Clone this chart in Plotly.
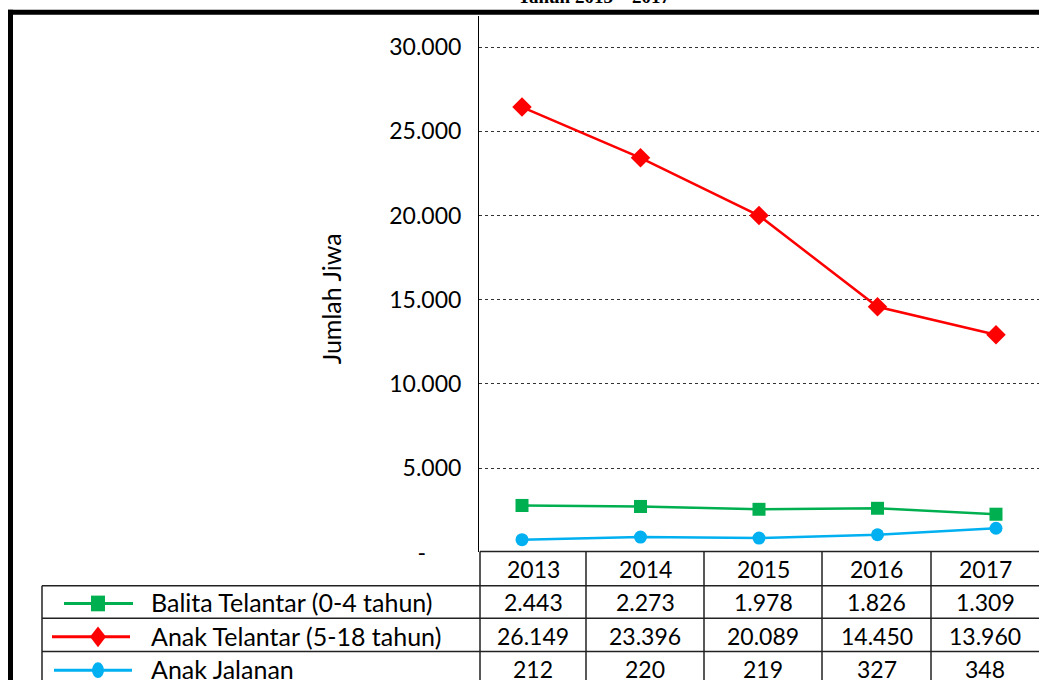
import plotly.graph_objects as go

# ---------------- data ----------------
years = ["2013", "2014", "2015", "2016", "2017"]
series_names = ["Balita Telantar (0-4 tahun)", "Anak Telantar (5-18 tahun)", "Anak Jalanan"]

# values shown in the data table
balita_table = ["2.443", "2.273", "1.978", "1.826", "1.309"]
anak_telantar_table = ["26.149", "23.396", "20.089", "14.450", "13.960"]
anak_jalanan_table = ["212", "220", "219", "327", "348"]

# values as plotted in the chart
balita_plot = [2790, 2730, 2560, 2620, 2270]
anak_telantar_plot = [26440, 23430, 20000, 14580, 12920]
anak_jalanan_plot = [760, 910, 850, 1050, 1435]

y_tickvals = [0, 5000, 10000, 15000, 20000, 25000, 30000]
y_ticktext = ["-" + "\u00a0" * 6, "5.000", "10.000", "15.000", "20.000", "25.000", "30.000"]

colors = ["#00B050", "#FF0000", "#00B0F0"]
symbols = ["square", "diamond", "circle"]
msizes = [13, 15, 13]

W, H = 1039, 693
FONT = "Lato"


def px(x):
    return x / W


def py(y):
    return (H - y) / H


fig = go.Figure()
xs = list(range(len(years)))
plot_vals = [balita_plot, anak_telantar_plot, anak_jalanan_plot]
for name, vals, c, s, ms in zip(series_names, plot_vals, colors, symbols, msizes):
    fig.add_trace(go.Scatter(
        x=xs, y=vals, mode="lines+markers", name=name,
        line=dict(color=c, width=2.5),
        marker=dict(color=c, symbol=s, size=ms),
        showlegend=False,
    ))

shapes = []
annotations = []

# outer thick border (left and top)
shapes.append(dict(type="rect", xref="paper", yref="paper",
                   x0=px(8), x1=px(13), y0=py(693), y1=py(10),
                   fillcolor="black", line=dict(width=0)))
shapes.append(dict(type="rect", xref="paper", yref="paper",
                   x0=px(8), x1=px(1039), y0=py(15), y1=py(10),
                   fillcolor="black", line=dict(width=0)))

# data table grid
tbl_line = dict(color="#222222", width=1.5)
col_edges = [480, 586, 704, 822, 931, 1040]
row_edges = [562, 597, 630, 664, 700]
shapes.append(dict(type="line", xref="paper", yref="paper",
                   x0=px(480), x1=px(1039), y0=py(562), y1=py(562), line=tbl_line))
for r in row_edges[1:-1]:
    shapes.append(dict(type="line", xref="paper", yref="paper",
                       x0=px(42), x1=px(1039), y0=py(r), y1=py(r), line=tbl_line))
for c in col_edges[:-1]:
    shapes.append(dict(type="line", xref="paper", yref="paper",
                       x0=px(c), x1=px(c), y0=py(562), y1=py(693), line=tbl_line))
shapes.append(dict(type="line", xref="paper", yref="paper",
                   x0=px(42), x1=px(42), y0=py(597), y1=py(693), line=tbl_line))

num_font = dict(family=FONT, size=23, color="black")
lbl_font = dict(family=FONT, size=25, color="black")


def col_center(i):
    if i == len(years) - 1:
        return (931 + 1039) / 2
    return (col_edges[i] + col_edges[i + 1]) / 2


for i, yr in enumerate(years):
    annotations.append(dict(x=px(col_center(i)), y=py(580), xref="paper", yref="paper",
                            text=yr, showarrow=False, font=num_font,
                            xanchor="center", yanchor="middle"))

table_rows = [balita_table, anak_telantar_table, anak_jalanan_table]
row_centers = [614, 648, 682]
for r, (name, vals) in enumerate(zip(series_names, table_rows)):
    cy = row_centers[r]
    annotations.append(dict(x=px(149), y=py(cy), xref="paper", yref="paper",
                            text=name, showarrow=False, font=lbl_font,
                            xanchor="left", yanchor="middle"))
    for i, v in enumerate(vals):
        annotations.append(dict(x=px(col_center(i)), y=py(cy), xref="paper", yref="paper",
                                text=v, showarrow=False, font=num_font,
                                xanchor="center", yanchor="middle"))

# legend keys in table
key_specs = [(64, 133, 615), (52, 130, 649), (54, 132, 683)]
for (x0, x1, ky), c, s in zip(key_specs, colors, symbols):
    shapes.append(dict(type="line", xref="paper", yref="paper",
                       x0=px(x0), x1=px(x1), y0=py(ky), y1=py(ky),
                       line=dict(color=c, width=3)))
    mx = 98
    if s == "square":
        shapes.append(dict(type="rect", xref="paper", yref="paper",
                           x0=px(mx - 7), x1=px(mx + 7), y0=py(ky + 8), y1=py(ky - 8),
                           fillcolor=c, line=dict(width=0)))
    elif s == "diamond":
        path = "M {} {} L {} {} L {} {} L {} {} Z".format(
            px(mx), py(ky - 10.5), px(mx + 8), py(ky), px(mx), py(ky + 10.5), px(mx - 8), py(ky))
        shapes.append(dict(type="path", xref="paper", yref="paper", path=path,
                           fillcolor=c, line=dict(width=0)))
    else:
        shapes.append(dict(type="circle", xref="paper", yref="paper",
                           x0=px(mx - 6), x1=px(mx + 6), y0=py(ky + 8), y1=py(ky - 8),
                           fillcolor=c, line=dict(width=0)))

# y axis title
annotations.append(dict(x=px(331), y=py(305), xref="paper", yref="paper",
                        text="Jumlah Jiwa", textangle=-90, showarrow=False,
                        font=lbl_font, xanchor="center", yanchor="middle"))
# chart title (cropped at top edge as in the reference)
annotations.append(dict(x=px(594), y=py(9), xref="paper", yref="paper",
                        text="<b>Tahun 2013 – 2017</b>", showarrow=False,
                        font=dict(family="Liberation Serif", size=19, color="black"),
                        xanchor="center", yanchor="bottom"))

fig.update_layout(
    width=W, height=H, autosize=False,
    margin=dict(l=0, r=0, t=0, b=0),
    paper_bgcolor="white", plot_bgcolor="white",
    font=dict(family=FONT, size=23, color="black"),
    shapes=shapes, annotations=annotations,
    xaxis=dict(domain=[px(479), 1.0], range=[-0.363, 4.363],
               showticklabels=False, showgrid=False, zeroline=False,
               showline=False, ticks=""),
    yaxis=dict(domain=[py(563), py(16)], range=[0, 31864],
               tickvals=y_tickvals, ticktext=y_ticktext,
               showgrid=True, gridcolor="#333333", griddash="dot", gridwidth=1,
               zeroline=False, showline=True, linecolor="black", linewidth=1,
               ticks="", ticklabelstandoff=12,
               tickfont=dict(family=FONT, size=23, color="black")),
)

fig.write_html(
    "out.html",
    config={"responsive": False, "displayModeBar": False, "staticPlot": True},
    post_script="document.body.style.margin='0';document.body.style.overflow='hidden';",
)
